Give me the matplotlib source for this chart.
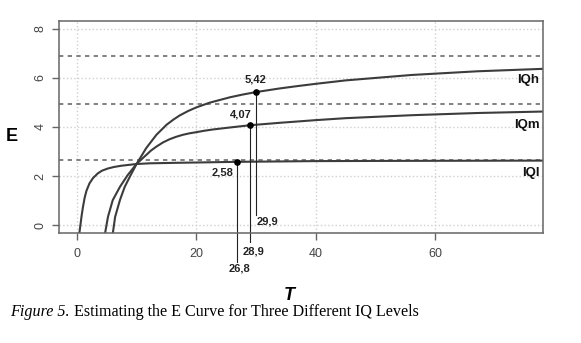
import numpy as np
import matplotlib
matplotlib.use('Agg')
import matplotlib.pyplot as plt

plt.rcParams['font.family'] = ['Liberation Sans', 'DejaVu Sans']

# 곡선 데이터
t_high = [6.0, 6.4, 7.2, 8.0, 9.0, 10.0, 11.6, 13.3, 15.0, 16.2, 17.2, 18.6, 20.0, 22.2,
          25.6, 27.7, 29.9, 33.9, 37.0, 40.0, 45.0, 56.0, 67.0, 78.0]
e_high = [-0.35, 0.34, 1.02, 1.56, 2.04, 2.50, 3.14, 3.68, 4.09, 4.31, 4.47, 4.65, 4.80, 4.99,
          5.21, 5.32, 5.42, 5.57, 5.67, 5.76, 5.90, 6.12, 6.27, 6.37]

t_mid = [4.7, 5.2, 6.0, 7.2, 8.5, 10.0, 11.6, 12.4, 13.3, 14.4, 15.5, 16.6, 17.7, 18.8,
         20.0, 21.4, 22.8, 24.2, 25.6, 28.9, 33.9, 40.0, 45.0, 56.0, 67.0, 78.0]
e_mid = [-0.35, 0.34, 1.02, 1.56, 2.04, 2.50, 2.86, 3.04, 3.20, 3.37, 3.50, 3.60, 3.68, 3.74,
         3.79, 3.85, 3.90, 3.94, 3.98, 4.07, 4.17, 4.28, 4.36, 4.48, 4.57, 4.63]

t_low = [0.4, 0.8, 1.0, 1.3, 1.6, 2.1, 2.7, 3.5, 4.2, 5.2, 6.2, 7.4, 9.9,
         12.2, 16.6, 26.8, 40.0, 55.0, 78.0]
e_low = [-0.35, 0.40, 0.72, 1.12, 1.40, 1.70, 1.92, 2.11, 2.22, 2.31, 2.37, 2.42, 2.49,
         2.52, 2.54, 2.58, 2.61, 2.62, 2.63]

# 점근선
asymptotes = [6.9, 4.94, 2.65]

# 추정 점 (T, E)
point_t = [29.9, 28.9, 26.8]
point_e = [5.42, 4.07, 2.58]
point_e_labels = ['5,42', '4,07', '2,58']
point_t_labels = ['29,9', '28,9', '26,8']
curve_names = ['IQh', 'IQm', 'IQl']

x_ticks = [0, 20, 40, 60]
y_ticks = [0, 2, 4, 6, 8]

fig = plt.figure(figsize=(5.81, 3.43), dpi=100)
ax = fig.add_axes([0.1015, 0.3207, 0.8331, 0.6181])
ax.set_xlim(-3, 78)
ax.set_ylim(-0.32, 8.32)

ax.set_xticks(x_ticks)
ax.set_yticks(y_ticks)
ax.grid(True, color='#d0d0d0', linestyle=':', linewidth=1.0)
ax.set_axisbelow(True)

for e in asymptotes:
    ax.axhline(e, color='#777777', linewidth=1.3, linestyle=(0, (2.4, 2.4)))

curve_col = '#3c3c3c'
ax.plot(t_high, e_high, color=curve_col, linewidth=1.5, solid_joinstyle='round')
ax.plot(t_mid, e_mid, color=curve_col, linewidth=1.5, solid_joinstyle='round')
ax.plot(t_low, e_low, color=curve_col, linewidth=1.5, solid_joinstyle='round')

# 수직선 (축 밖으로 이어짐)
line_ends = [0.41, -0.68, -1.50]
for t, e, end in zip(point_t, point_e, line_ends):
    ax.plot([t, t], [e, end], color='#222222', linewidth=0.8, clip_on=False)
ax.plot(point_t, point_e, 'o', color='black', markersize=3.8, zorder=5)

# 값 라벨
e_label_pos = [(29.9, 5.92), (27.5, 4.49), (24.4, 2.13)]
for (x, y), s in zip(e_label_pos, point_e_labels):
    ax.text(x, y, s, ha='center', va='center', fontsize=8, fontweight='bold', color='#222222')
t_label_pos = [(31.9, 0.13), (29.6, -1.09), (27.2, -1.76)]
for (x, y), s in zip(t_label_pos, point_t_labels):
    ax.text(x, y, s, ha='center', va='center', fontsize=8, fontweight='bold',
            color='#222222', clip_on=False)

name_pos = [5.92, 4.08, 2.11]
for y, s in zip(name_pos, curve_names):
    ax.text(77.4, y, s, ha='right', va='center', fontsize=9.5, fontweight='bold', color='#111111')

for sp in ax.spines.values():
    sp.set_color('#666666')
    sp.set_linewidth(1.1)
ax.tick_params(axis='both', colors='#666666', length=5, width=1.0, labelsize=9,
               labelcolor='#444444')
ax.tick_params(axis='x', pad=6)
ax.tick_params(axis='y', pad=4, labelrotation=90)
for lab in ax.get_yticklabels():
    lab.set_va('center')

fig.text(12 / 581, 1 - 137 / 343, 'E', ha='center', va='center', fontsize=13, fontweight='bold')
fig.text(289 / 581, 1 - 295 / 343, 'T', ha='center', va='center', fontsize=13,
         fontweight='bold', fontstyle='italic')

cap1 = fig.text(10 / 581, 1 - 316.5 / 343, 'Figure 5.', ha='left', va='baseline',
                fontsize=11.6, fontstyle='italic', family='Liberation Serif')
ax.annotate(' Estimating the E Curve for Three Different IQ Levels', xy=(1, 0),
            xycoords=cap1, ha='left', va='bottom', fontsize=11.6, family='Liberation Serif',
            annotation_clip=False)

fig.savefig('out.png', dpi=100)
